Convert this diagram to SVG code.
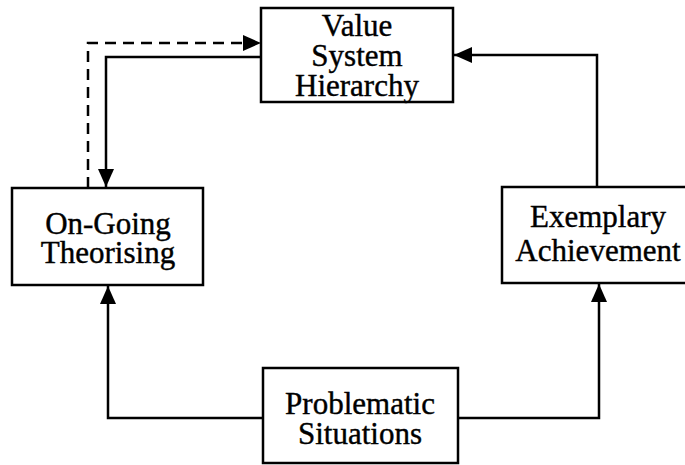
<svg xmlns="http://www.w3.org/2000/svg" width="685" height="465" viewBox="0 0 685 465">
<style>
.box{fill:#fff;stroke:#000;stroke-width:2.5}
.t{font-family:"Liberation Serif","Times New Roman",serif;font-size:31px;fill:#000;stroke:#000;stroke-width:0.4;text-anchor:middle}
.ln{fill:none;stroke:#000;stroke-width:2.5}
.dash{fill:none;stroke:#000;stroke-width:2.5;stroke-dasharray:11,7}
</style>
<defs>
<marker id="ah" markerUnits="userSpaceOnUse" markerWidth="20" markerHeight="16" refX="18" refY="8" orient="auto">
<path d="M0,0 L18,8 L0,16 z" fill="#000"/>
</marker>
</defs>
<rect width="685" height="465" fill="#fff"/>
<g id="connectors">
<path class="dash" d="M88,188 L88,43 L243,43"/>
<path class="ln" d="M261,57 L106,57 L106,187" marker-end="url(#ah)"/>
<path class="ln" d="M597,187 L597,55 L454,55" marker-end="url(#ah)"/>
<path class="ln" d="M263,418 L108,418 L108,286" marker-end="url(#ah)"/>
<path class="ln" d="M458,418 L599,418 L599,284" marker-end="url(#ah)"/>
<path d="M243,35 L261,43 L243,51 z" fill="#000"/>
</g>
<g id="value">
<rect class="box" x="261" y="8" width="192" height="94"/>
<text class="t" x="357" y="36">Value</text>
<text class="t" x="357" y="66">System</text>
<text class="t" x="357" y="96">Hierarchy</text>
</g>
<g id="ongoing">
<rect class="box" x="12" y="188" width="191" height="97"/>
<text class="t" x="108" y="234">On-Going</text>
<text class="t" x="108" y="263">Theorising</text>
</g>
<g id="exemplary">
<rect class="box" x="502" y="187" width="186" height="96"/>
<text class="t" x="598" y="227">Exemplary</text>
<text class="t" x="598" y="261">Achievement</text>
</g>
<g id="problematic">
<rect class="box" x="263" y="368" width="195" height="95"/>
<text class="t" x="360" y="414">Problematic</text>
<text class="t" x="360" y="444">Situations</text>
</g>
</svg>
